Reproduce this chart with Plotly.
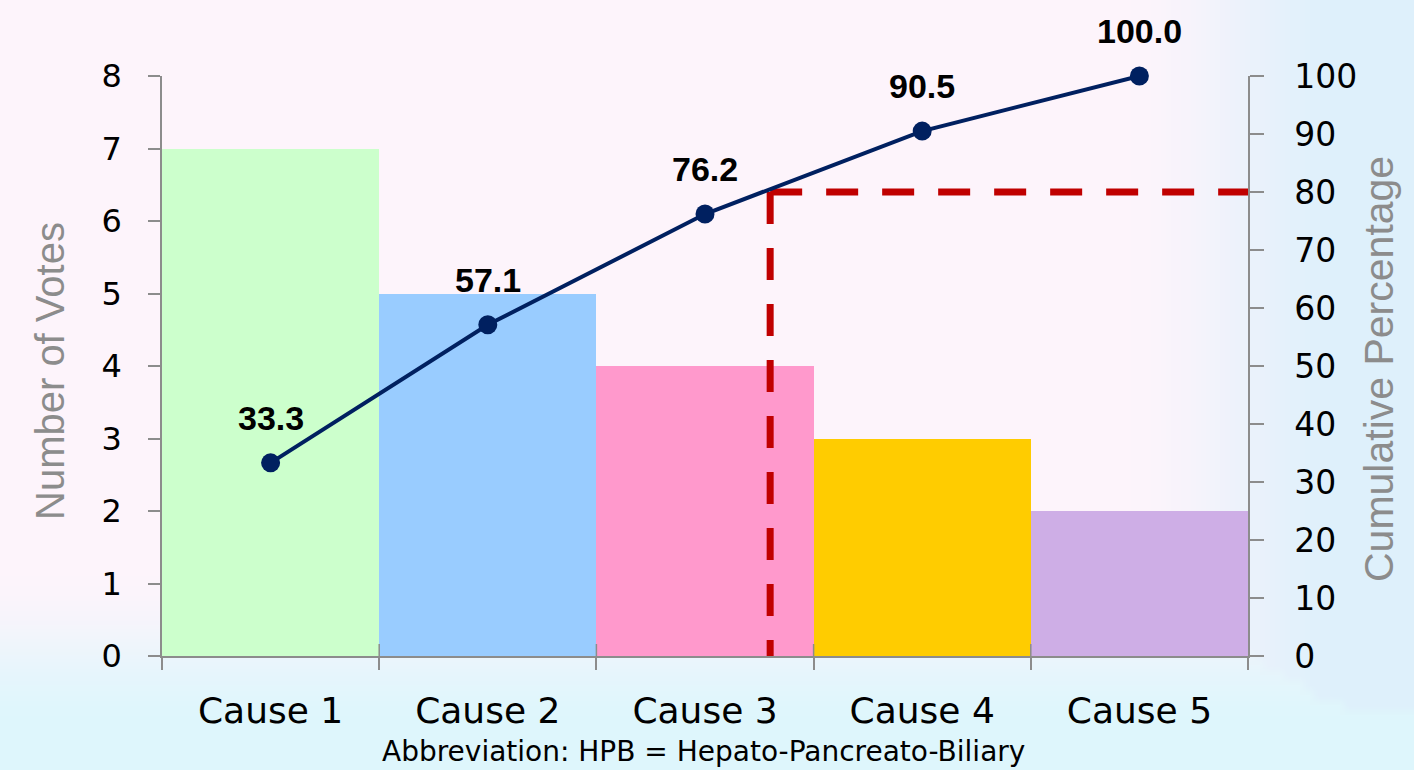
import base64
import struct
import zlib

import plotly.graph_objects as go

# --- data -------------------------------------------------------------
causes = ["Cause 1", "Cause 2", "Cause 3", "Cause 4", "Cause 5"]
votes = [7, 5, 4, 3, 2]
cumulative_pct = [33.3, 57.1, 76.2, 90.5, 100.0]
bar_colors = ["#ccffcc", "#99ccff", "#ff99cc", "#ffcc00", "#ceaee6"]

vote_ticks = [0, 1, 2, 3, 4, 5, 6, 7, 8]
pct_ticks = [0, 10, 20, 30, 40, 50, 60, 70, 80, 90, 100]

# 80% cut-off guide: where it meets the cumulative curve (category units)
cutoff_pct = 80
cutoff_x = 2.3

footnote = "Abbreviation: HPB = Hepato-Pancreato-Biliary"

# --- page geometry ----------------------------------------------------
W, H = 1414, 770
M_L, M_R, M_T, M_B = 162, 166, 76, 114
PW, PH = W - M_L - M_R, H - M_T - M_B


def soft_background(w, h):
    """Small pink-to-cyan wash, stretched over the whole page."""
    pink = (253, 244, 251)
    cyan = (222, 246, 252)
    blue = (220, 240, 251)

    def smooth(t):
        t = max(0.0, min(1.0, t))
        return t * t * (3 - 2 * t)

    rows = []
    for j in range(h):
        y = (j + 0.5) / h * H
        row = bytearray([0])
        for i in range(w):
            x = (i + 0.5) / w * W
            wb = smooth((y - 570) / 160)
            wr = smooth((x - 1120) / 240) * 0.95
            if wr > wb:
                c = [pink[k] + (blue[k] - pink[k]) * wr for k in range(3)]
            else:
                c = [pink[k] + (cyan[k] - pink[k]) * wb for k in range(3)]
            row += bytes(int(round(v)) for v in c)
        rows.append(bytes(row))
    raw = b"".join(rows)

    def chunk(tag, data):
        body = tag + data
        return struct.pack(">I", len(data)) + body + struct.pack(">I", zlib.crc32(body) & 0xFFFFFFFF)

    png = b"\x89PNG\r\n\x1a\n"
    png += chunk(b"IHDR", struct.pack(">IIBBBBB", w, h, 8, 2, 0, 0, 0))
    png += chunk(b"IDAT", zlib.compress(raw, 9))
    png += chunk(b"IEND", b"")
    return "data:image/png;base64," + base64.b64encode(png).decode()


x_pos = list(range(len(causes)))
boundaries = [i - 0.5 for i in range(len(causes) + 1)]
x_range = [boundaries[0], boundaries[-1]]
axis_grey = "#8c8c8c"

fig = go.Figure()

fig.add_trace(go.Bar(
    x=x_pos, y=votes, width=1,
    marker=dict(color=bar_colors, line=dict(width=0)),
    hoverinfo="skip",
))

# dashed 80% guide
guide = dict(color="#c00000", width=7, dash="32px,24px")
fig.add_trace(go.Scatter(
    x=[cutoff_x, cutoff_x], y=[cutoff_pct, 0], yaxis="y2",
    mode="lines", line=guide, hoverinfo="skip",
))
fig.add_trace(go.Scatter(
    x=[cutoff_x, x_range[1]], y=[cutoff_pct, cutoff_pct], yaxis="y2",
    mode="lines", line=guide, hoverinfo="skip",
))

# cumulative percentage curve
fig.add_trace(go.Scatter(
    x=x_pos, y=cumulative_pct, yaxis="y2",
    mode="lines+markers", cliponaxis=False,
    line=dict(color="#002060", width=4),
    marker=dict(color="#002060", size=19),
))

annotations = []
for xi, v in zip(x_pos, cumulative_pct):
    annotations.append(dict(
        x=xi, y=v, xref="x", yref="y2", text=f"{v:.1f}", showarrow=False,
        yanchor="middle", yshift=45,
        font=dict(family="Liberation Sans, Arial", size=34, color="#000000", weight="bold"),
    ))

annotations.append(dict(
    x=(50 - M_L) / PW, y=(M_T + PH - 371) / PH, xref="paper", yref="paper",
    text="Number of Votes", textangle=-90, showarrow=False,
    xanchor="center", yanchor="middle",
    font=dict(family="Liberation Sans, Arial", size=40, color="#8c8c8c"),
))
annotations.append(dict(
    x=(1379 - M_L) / PW, y=(M_T + PH - 369) / PH, xref="paper", yref="paper",
    text="Cumulative Percentage", textangle=-90, showarrow=False,
    xanchor="center", yanchor="middle",
    font=dict(family="Liberation Sans, Arial", size=41, color="#8c8c8c"),
))
annotations.append(dict(
    x=(703 - M_L) / PW, y=(M_T + PH - 752) / PH, xref="paper", yref="paper",
    text=footnote, showarrow=False, xanchor="center", yanchor="middle",
    font=dict(family="DejaVu Sans", size=28, color="#000000"),
))

# short upward ticks at the category boundaries (they cross the axis line)
shapes = [
    dict(type="line", xref="x", yref="y", x0=b, x1=b,
         ysizemode="pixel", yanchor=0, y0=0, y1=12,
         line=dict(color=axis_grey, width=1.5), layer="above")
    for b in boundaries[1:-1]
]

fig.update_layout(
    width=W, height=H,
    margin=dict(l=M_L, r=M_R, t=M_T, b=M_B, pad=0),
    paper_bgcolor="#fdf4fb",
    plot_bgcolor="rgba(0,0,0,0)",
    showlegend=False,
    bargap=0,
    annotations=annotations,
    shapes=shapes,
    images=[dict(
        source=soft_background(142, 77),
        xref="paper", yref="paper",
        x=-M_L / PW, y=1 + M_T / PH,
        sizex=W / PW, sizey=H / PH,
        xanchor="left", yanchor="top",
        sizing="stretch", layer="below",
    )],
    xaxis=dict(
        range=x_range, tickmode="array", tickvals=x_pos, ticktext=causes,
        ticks="", showgrid=False, zeroline=False,
        showline=True, linecolor=axis_grey, linewidth=1.5,
        ticklabelstandoff=22,
        tickfont=dict(family="DejaVu Sans", size=36, color="#000000"),
        minor=dict(tickmode="array", tickvals=boundaries, ticks="outside",
                   ticklen=12, tickcolor=axis_grey, tickwidth=1.5, showgrid=False),
    ),
    yaxis=dict(
        range=[0, 8], tickmode="array", tickvals=vote_ticks,
        ticks="outside", ticklen=12, tickcolor=axis_grey, tickwidth=1.5,
        showgrid=False, zeroline=False,
        showline=True, linecolor=axis_grey, linewidth=1.5,
        ticklabelstandoff=20,
        tickfont=dict(family="DejaVu Sans", size=32, color="#000000"),
    ),
    yaxis2=dict(
        range=[0, 100], tickmode="array", tickvals=pct_ticks,
        overlaying="y", side="right", anchor="x",
        ticks="outside", ticklen=14, tickcolor=axis_grey, tickwidth=1.5,
        showgrid=False, zeroline=False,
        showline=True, linecolor=axis_grey, linewidth=1.5,
        ticklabelstandoff=24,
        tickfont=dict(family="DejaVu Sans", size=33, color="#000000"),
    ),
)

fig.write_html("out.html")
